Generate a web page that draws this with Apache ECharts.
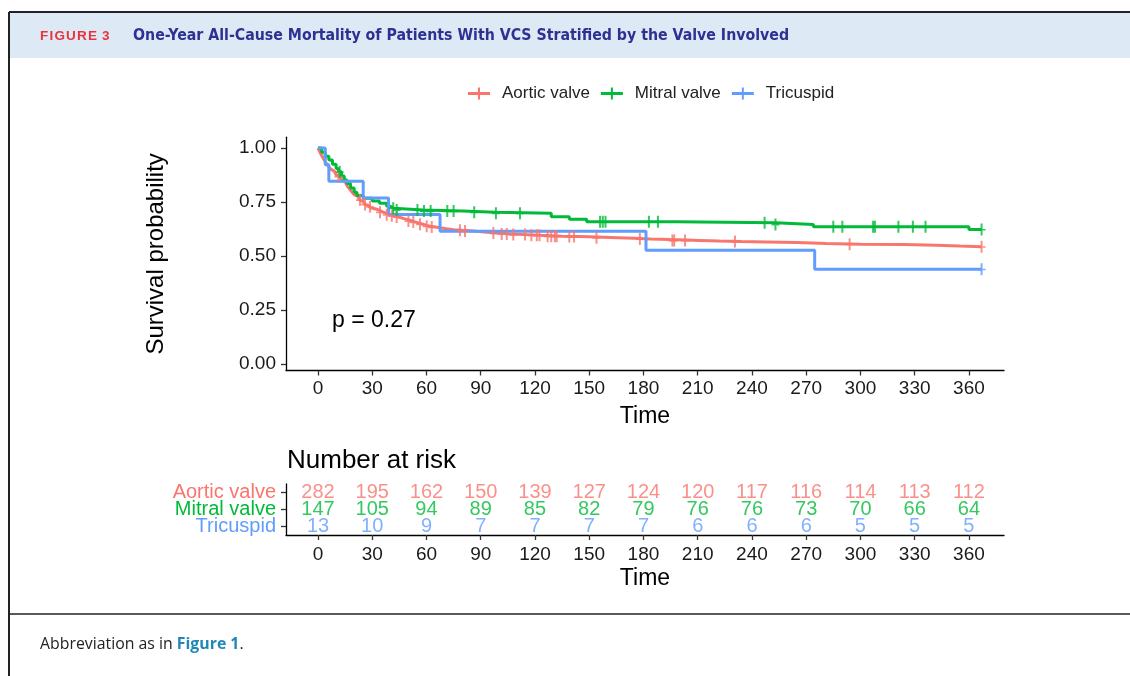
<!DOCTYPE html>
<html lang="en">
<head>
  <meta charset="UTF-8">
  <title>Figure 3</title>
  <script src="https://cdn.jsdelivr.net/npm/echarts@6.0.0/dist/echarts.min.js"></script>
  <style>
    body { margin: 0; background: #fff; }
  </style>
</head>
<body>
<div id="main" style="width:1130px;height:676px;"></div>
<script type="text/javascript">
  // survival steps [day, probability after the drop]
  var aorticSteps = [[0,1],[1,0.982],[2,0.965],[3,0.950],[4,0.936],[5,0.925],[6,0.912],[7,0.902],[8,0.893],[9,0.884],
    [10,0.876],[11,0.868],[12,0.860],[13,0.852],[14,0.843],[15,0.835],[16,0.826],[17,0.815],[18,0.804],[19,0.794],
    [20,0.784],[21,0.776],[22,0.768],[23,0.760],[24,0.752],[25,0.745],[26,0.739],[27,0.733],[28,0.728],[29,0.723],
    [30,0.718],[32,0.711],[34,0.703],[36,0.697],[38,0.691],[40,0.686],[42,0.681],[44,0.677],[46,0.672],[48,0.667],
    [50,0.662],[52,0.657],[54,0.652],[56,0.647],[58,0.642],[60,0.638],[62,0.634],[65,0.630],[68,0.626],[71,0.622],
    [75,0.619],[80,0.616],[86,0.611],[92,0.606],[99,0.602],[106,0.599],[115,0.596],[123,0.592],[135,0.590],[145,0.588],
    [154,0.585],[166,0.582],[175,0.579],[184,0.576],[195,0.572],[211,0.569],[222,0.567],[234,0.565],[248,0.562],
    [265,0.558],[281,0.555],[300,0.553],[324,0.550],[342,0.546],[355,0.543],[367,0.543]];
  var mitralSteps = [[0,1],[2,0.98],[4,0.962],[6,0.944],[8,0.925],[10,0.905],[11.3,0.89],[13,0.87],[14.5,0.852],
    [16,0.836],[18,0.815],[20,0.795],[21.5,0.78],[25,0.767],[30,0.755],[34,0.744],[38,0.73],[40,0.721],[42,0.713],
    [58,0.708],[80,0.703],[98,0.698],[129,0.682],[139,0.670],[148.6,0.659],[198,0.654],[253,0.646],[274,0.636],
    [360,0.623],[367,0.623]];
  var tricuspidSteps = [[0,1],[4,0.923],[6,0.846],[25,0.769],[39,0.692],[67.5,0.615],[181.4,0.527],[274.7,0.439],[367,0.439]];

  // censoring times (+ marks)
  var aorticCensor = [11.3,23.2,26,28.8,34.3,38,40.8,43.5,50,52.7,56.4,60.1,62.9,78.5,81.3,97,101.6,104.4,108,114.5,
    118,121,122.5,127,129,131,132,139,141.6,154,178,196,197,203,230.6,294,367];
  var mitralCensor = [12,41.6,43.5,55,58.6,62.3,71.5,75,86.4,98.4,111.7,156,157.5,159,183,188,247,253,285,290,307,308,
    321,329,336,367];
  var tricuspidCensor = [367];

  // number at risk table
  var riskTimes = [0,30,60,90,120,150,180,210,240,270,300,330,360];
  var aorticRisk = [282,195,162,150,139,127,124,120,117,116,114,113,112];
  var mitralRisk = [147,105,94,89,85,82,79,76,76,73,70,66,64];
  var tricuspidRisk = [13,10,9,7,7,7,7,6,6,6,5,5,5];

  var groups = ['Aortic valve', 'Mitral valve', 'Tricuspid'];
  var colors = ['#F8766D', '#00BA38', '#619CFF'];
  var xTicks = [0,30,60,90,120,150,180,210,240,270,300,330,360];
  var yTicks = [0,0.25,0.5,0.75,1];

  var font = 'Liberation Sans, Arial, sans-serif';
  var plusSymbol = 'path://M0,5H8V6.5H0Z M3,0H5V11H3Z';
  var legendIcon = 'path://M0,5.5H22V8.5H0Z M10,1H12V13H10Z';

  function survAt(steps, t) {
    var s = steps[0][1];
    for (var i = 0; i < steps.length; i++) {
      if (steps[i][0] <= t) s = steps[i][1];
    }
    return s;
  }
  function censorPoints(steps, times) {
    return times.map(function (t) { return [t, survAt(steps, t)]; });
  }
  function riskPoints(counts, row) {
    return counts.map(function (n, i) { return [riskTimes[i], row, n]; });
  }

  var steps = [aorticSteps, mitralSteps, tricuspidSteps];
  var censors = [aorticCensor, mitralCensor, tricuspidCensor];
  var risks = [aorticRisk, mitralRisk, tricuspidRisk];

  var series = [];
  groups.forEach(function (g, i) {
    series.push({
      name: g, type: 'line', step: 'end', xAxisIndex: 0, yAxisIndex: 0,
      data: steps[i], showSymbol: false, silent: true,
      lineStyle: { color: colors[i], width: 3 }, itemStyle: { color: colors[i] }
    });
  });
  groups.forEach(function (g, i) {
    series.push({
      name: g, type: 'scatter', xAxisIndex: 0, yAxisIndex: 0,
      data: censorPoints(steps[i], censors[i]),
      symbol: plusSymbol, symbolSize: [8, 12], silent: true,
      itemStyle: { color: colors[i] }, z: 3
    });
  });
  groups.forEach(function (g, i) {
    series.push({
      name: g + ' risk', type: 'scatter', xAxisIndex: 1, yAxisIndex: 1,
      data: riskPoints(risks[i], g), symbolSize: 0, silent: true,
      label: {
        show: true, position: 'inside', fontSize: 20, color: colors[i], fontFamily: font,
        formatter: function (p) { return p.value[2]; }
      }
    });
  });

  var axisText = { fontSize: 19, color: '#1a1a1a', fontFamily: font };

  // header label with a little letter spacing
  var figLabel = 'FIGURE 3'.split('').map(function (c) {
    return c === ' ' ? '{s| }' : '{l|' + c + '}';
  }).join('');

  var myChart = echarts.init(document.getElementById('main'));
  var option = {
    animation: false,
    textStyle: { fontFamily: font },
    legend: {
      data: groups.map(function (g) { return { name: g, icon: legendIcon }; }),
      left: 463, top: 80, itemWidth: 22, itemHeight: 14, itemGap: 11,
      textStyle: { fontSize: 17, color: '#222', fontFamily: font, padding: [0, 0, 0, 7] },
      selectedMode: false
    },
    grid: [
      { left: 286, top: 137.2, width: 718, height: 233.3 },
      { left: 286, top: 484, width: 718, height: 51 }
    ],
    xAxis: [
      {
        gridIndex: 0, type: 'value', min: -17.7, max: 379.4, position: 'bottom',
        axisLine: { show: true, onZero: false, lineStyle: { color: '#000', width: 1.3 } },
        axisTick: { show: true, customValues: xTicks, length: 5, lineStyle: { color: '#333', width: 1.3 } },
        axisLabel: Object.assign({ customValues: xTicks, margin: 9 }, axisText),
        splitLine: { show: false },
        name: 'Time', nameLocation: 'middle', nameGap: 35,
        nameTextStyle: { fontSize: 23, color: '#000', fontFamily: font }
      },
      {
        gridIndex: 1, type: 'value', min: -17.7, max: 379.4, position: 'bottom',
        axisLine: { show: true, onZero: false, lineStyle: { color: '#000', width: 1.3 } },
        axisTick: { show: true, customValues: xTicks, length: 5, lineStyle: { color: '#333', width: 1.3 } },
        axisLabel: Object.assign({ customValues: xTicks, margin: 10 }, axisText),
        splitLine: { show: false },
        name: 'Time', nameLocation: 'middle', nameGap: 32,
        nameTextStyle: { fontSize: 23, color: '#000', fontFamily: font }
      }
    ],
    yAxis: [
      {
        gridIndex: 0, type: 'value', min: -0.03, max: 1.05, position: 'left',
        axisLine: { show: true, onZero: false, lineStyle: { color: '#000', width: 1.3 } },
        axisTick: { show: true, customValues: yTicks, length: 5, lineStyle: { color: '#333', width: 1.3 } },
        axisLabel: Object.assign({
          customValues: yTicks, margin: 10,
          formatter: function (v) { return v.toFixed(2); }
        }, axisText),
        splitLine: { show: false },
        name: 'Survival probability', nameLocation: 'middle', nameGap: 118,
        nameTextStyle: { fontSize: 24, color: '#000', fontFamily: font }
      },
      {
        gridIndex: 1, type: 'category', position: 'left', data: ['Tricuspid', 'Mitral valve', 'Aortic valve'],
        axisLine: { show: true, onZero: false, lineStyle: { color: '#000', width: 1.3 } },
        axisTick: { show: true, alignWithLabel: true, length: 5, lineStyle: { color: '#333', width: 1.3 } },
        axisLabel: {
          interval: 0, margin: 10, fontSize: 20, fontFamily: font,
          formatter: function (v) {
            var k = v === 'Aortic valve' ? 'a' : (v === 'Mitral valve' ? 'm' : 't');
            return '{' + k + '|' + v + '}';
          },
          rich: {
            a: { color: colors[0], fontSize: 20, fontFamily: font },
            m: { color: colors[1], fontSize: 20, fontFamily: font },
            t: { color: colors[2], fontSize: 20, fontFamily: font }
          }
        },
        splitLine: { show: false }
      }
    ],
    graphic: [
      { type: 'rect', shape: { x: 9, y: 12, width: 1121, height: 46 }, style: { fill: '#dde9f5' }, silent: true },
      { type: 'line', shape: { x1: 9, y1: 12, x2: 1130, y2: 12 }, style: { stroke: '#222', lineWidth: 2 }, silent: true },
      { type: 'line', shape: { x1: 9, y1: 12, x2: 9, y2: 676 }, style: { stroke: '#222', lineWidth: 2 }, silent: true },
      { type: 'line', shape: { x1: 9, y1: 614, x2: 1130, y2: 614 }, style: { stroke: '#222', lineWidth: 1.5 }, silent: true },
      {
        type: 'text', left: 40, top: 29, silent: true,
        style: {
          text: figLabel,
          rich: {
            l: { fill: '#e8333c', font: 'bold 13.5px ' + font, padding: [0, 1.2, 0, 0] },
            s: { fill: '#e8333c', font: 'bold 13.5px ' + font }
          }
        }
      },
      {
        type: 'text', left: 133, top: 28, silent: true,
        style: {
          text: 'One-Year All-Cause Mortality of Patients With VCS Stratified by the Valve Involved',
          fill: '#2e3192', font: 'bold 15.75px Liberation Sans Narrow, DejaVu Sans Condensed, Roboto, sans-serif'
        }
      },
      {
        type: 'text', left: 332, top: 309, silent: true,
        style: { text: 'p = 0.27', fill: '#000', font: '23px ' + font }
      },
      {
        type: 'text', left: 287, top: 448, silent: true,
        style: { text: 'Number at risk', fill: '#000', font: '26px ' + font }
      },
      {
        type: 'text', left: 40, top: 636, silent: true,
        style: {
          text: '{a|Abbreviation as in }{b|Figure 1}{a|.}',
          rich: {
            a: { fill: '#222', font: '15.85px Open Sans, sans-serif' },
            b: { fill: '#1f88b5', font: 'bold 15.85px Open Sans, sans-serif' }
          }
        }
      }
    ],
    series: series
  };

  myChart.setOption(option);
</script>
</body>
</html>
